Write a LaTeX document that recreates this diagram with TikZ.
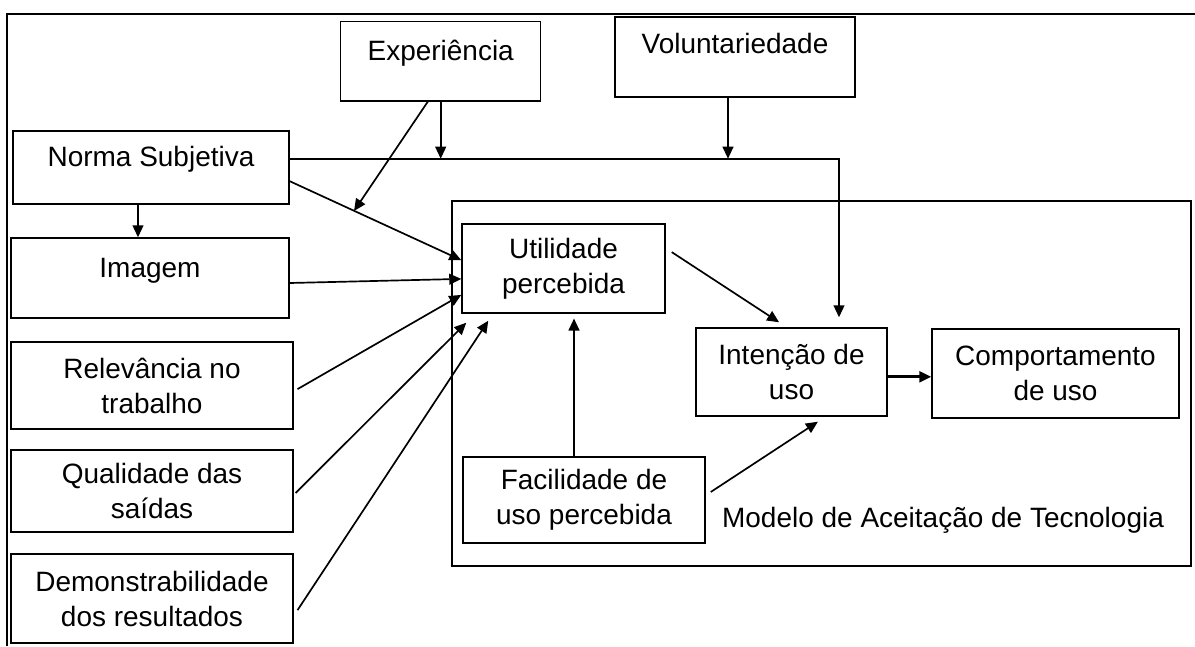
\documentclass[tikz,border=0pt]{standalone}
\usepackage{fontspec}
\setmainfont{Liberation Sans}
\usetikzlibrary{arrows.meta}

\begin{document}
\begin{tikzpicture}[x=0.025cm, y=-0.025cm,
    fator/.style ={rectangle, draw, line width=1pt, align=center, inner sep=0pt,
      font=\fontsize{19.9}{24.9}\selectfont},
    topo/.style ={fator, text height=0.5cm, text depth=0.55cm},
    seta/.style ={line width=1.2pt, -{Triangle[length=0.3cm, width=0.27cm]}}]
   \useasboundingbox (0,0) rectangle (1195,646);
   \draw[line width=1.2pt] (1195,14) -- (7,14) -- (7,646);
   \draw[line width=1pt] (452,201) rectangle (1191,566);

   \node[topo, minimum width=5cm, minimum height=1.975cm] (expe) at (440.7,61.3) {Experiência};
   \node[topo, minimum width=6cm, minimum height=2cm, text depth=0.7cm] (volu) at (735,57) {Voluntariedade};
   \node[topo, minimum width=6.89cm, minimum height=1.825cm] (norma) at (151,167.5) {Norma Subjetiva};
   \node[topo, minimum width=6.94cm, minimum height=2cm] (imagem) at (150,278) {Imagem};
   \node[fator, minimum width=7.04cm, minimum height=2.175cm] (relev) at (152,385.5) {Relevância no\\trabalho};
   \node[fator, minimum width=7.04cm, minimum height=2.05cm] (quali) at (152,491) {Qualidade das\\saídas};
   \node[fator, minimum width=7.04cm, minimum height=2.225cm] (demo) at (152,598.5) {Demonstrabilidade\\dos resultados};

   \node[fator, minimum width=5.075cm, minimum height=2.225cm] (util) at (563.5,268.5) {Utilidade\\percebida};
   \node[fator, minimum width=4.775cm, minimum height=2.2cm] (inten) at (791.5,372) {Intenção de\\uso};
   \node[fator, minimum width=6.175cm, minimum height=2.225cm] (compo) at (1055.5,373.5) {Comportamento\\de uso};
   \node[fator, minimum width=6.05cm, minimum height=2.15cm] (facil) at (584,500) {Facilidade de\\uso percebida};
   \node[font=\fontsize{19.9}{24.9}\selectfont, inner sep=0pt] (modelo) at (943,520) {Modelo de Aceitação de Tecnologia};

   \coordinate (canto) at (839,158.7);
   \coordinate (cruza) at (354,211);

   \draw[seta] (norma.east |- canto) -- (canto) -- ([yshift=0.25cm]inten.north -| canto);
   \draw[seta] (expe.south) -- (expe.south |- canto);
   \draw[seta] ([xshift=-0.175cm]volu.south) -- ([xshift=-0.175cm]volu.south |- canto);
   \draw[seta] ([xshift=-0.32cm]expe.south) -- (cruza);
   \draw[seta] ([yshift=-0.34cm]norma.east) -- ([yshift=0.21cm]util.west);
   \draw[seta] (norma.south -| 138,0) -- (imagem.north -| 138,0);
   \draw[seta] ([yshift=-0.125cm]imagem.east) -- ([yshift=-0.26cm]util.west);
   \draw[seta] ([xshift=0.1cm, yshift=-0.09cm]relev.east) -- ([yshift=-0.66cm]util.west);
   \draw[seta] ([xshift=0.05cm, yshift=-0.05cm]quali.east) -- ([xshift=0.125cm, yshift=-0.225cm]util.south west);
   \draw[seta] ([xshift=0.1cm, yshift=-0.29cm]demo.east) -- ([xshift=0.675cm, yshift=-0.175cm]util.south west);
   \draw[seta] ([xshift=-0.25cm]facil.north) -- ([xshift=-0.25cm, yshift=-0.12cm]facil.north |- util.south);
   \draw[seta] ([xshift=0.15cm, yshift=0.41cm]util.east) -- ([xshift=-0.31cm, yshift=0.125cm]inten.north);
   \draw[seta] ([xshift=0.125cm, yshift=0.2cm]facil.east) -- ([xshift=0.66cm, yshift=-0.125cm]inten.south);
   \draw[seta, line width=2pt] ([yshift=-0.12cm]inten.east) -- ([yshift=-0.12cm]inten.east -| compo.west);
 \end{tikzpicture}
\end{document}
